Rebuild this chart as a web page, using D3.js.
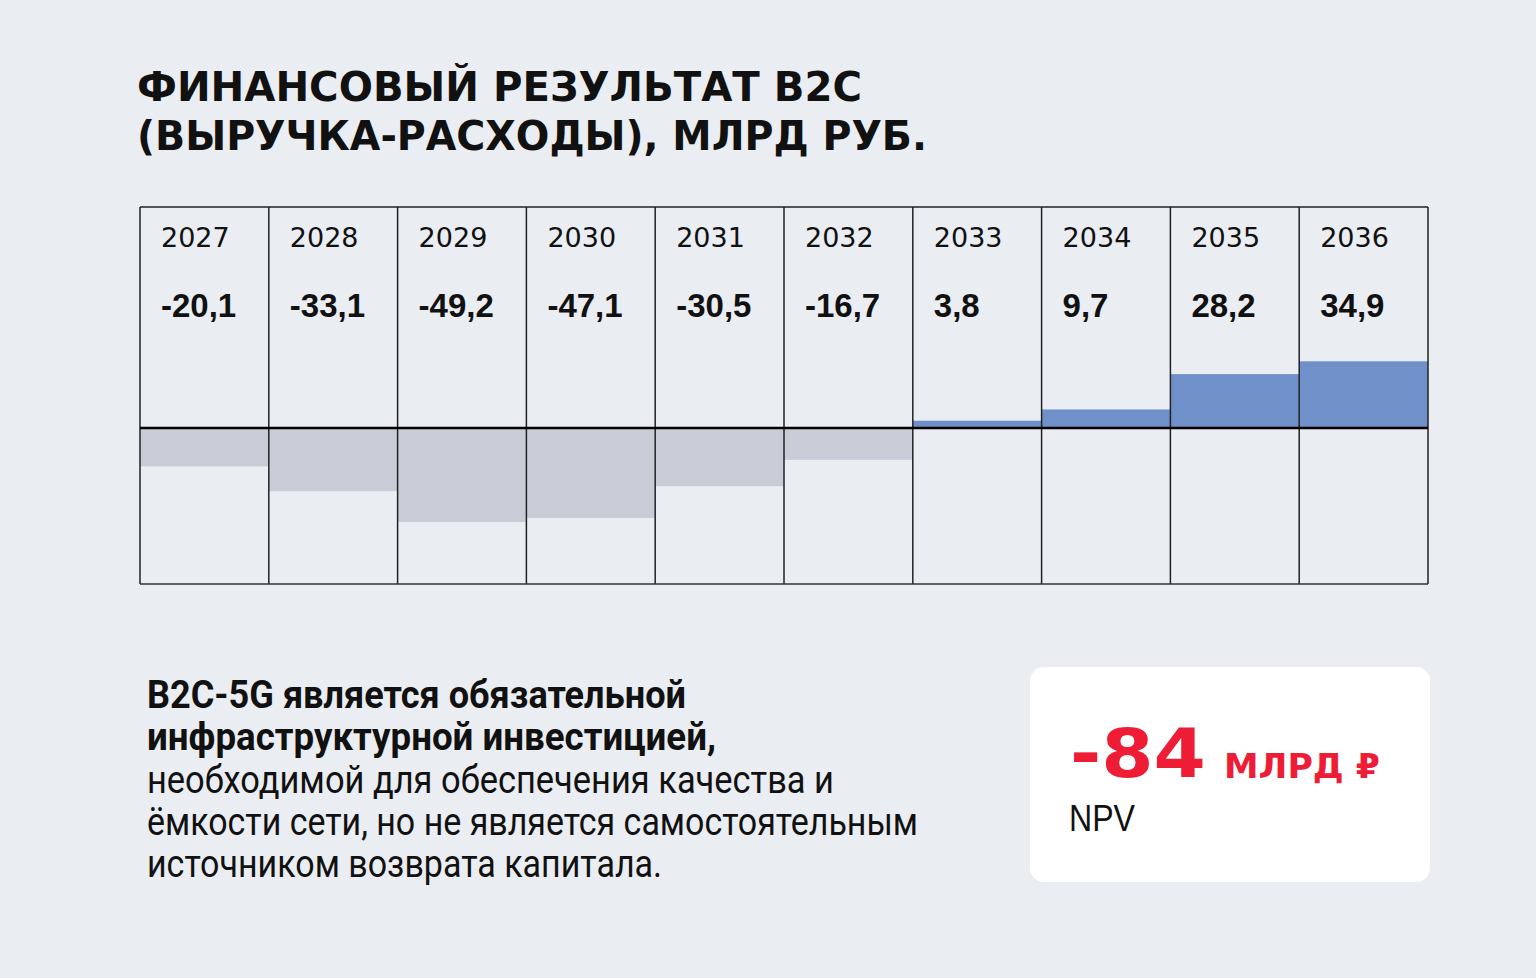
<!DOCTYPE html>
<html>
<head>
<meta charset="utf-8">
<script src="https://cdn.jsdelivr.net/npm/d3@7"></script>
<style>
  html, body { margin: 0; padding: 0; background: #eaedf2; }
  svg { display: block; }
</style>
</head>
<body>
<svg width="1536" height="978"></svg>
<script>
const years = ['2027', '2028', '2029', '2030', '2031', '2032', '2033', '2034', '2035', '2036'];
const values = [-20.1, -33.1, -49.2, -47.1, -30.5, -16.7, 3.8, 9.7, 28.2, 34.9];
const titleLines = ['ФИНАНСОВЫЙ РЕЗУЛЬТАТ B2C', '(ВЫРУЧКА-РАСХОДЫ), МЛРД РУБ.'];
const noteLines = [
  { text: 'B2C-5G является обязательной', bold: true, w: 539 },
  { text: 'инфраструктурной инвестицией,', bold: true, w: 569 },
  { text: 'необходимой для обеспечения качества и', bold: false, w: 687 },
  { text: 'ёмкости сети, но не является самостоятельным', bold: false, w: 771 },
  { text: 'источником возврата капитала.', bold: false, w: 515 }
];
const npvValue = '-84';
const npvUnit = 'МЛРД ₽';
const npvLabel = 'NPV';

const svg = d3.select('svg');
const width = +svg.attr('width');
const height = +svg.attr('height');

svg.append('rect')
    .attr('width', width)
    .attr('height', height)
    .attr('fill', '#eaedf2');

// title
svg.append('g')
  .selectAll('text')
  .data(titleLines)
  .join('text')
    .attr('x', 137)
    .attr('y', (d, i) => 101 + i * 49)
    .attr('font-family', 'DejaVu Sans')
    .attr('font-weight', 'bold')
    .attr('font-size', 40)
    .attr('fill', '#111')
    .attr('textLength', (d, i) => i === 0 ? 725 : 790)
    .attr('lengthAdjust', 'spacingAndGlyphs')
    .text(d => d);

// chart
const gridLeft = 140, gridRight = 1428, gridTop = 207, gridBottom = 584;

const x = d3.scaleBand()
    .domain(years)
    .range([gridLeft, gridRight])
    .padding(0);

const y = d3.scaleLinear()
    .domain([-81.7, 115.7])
    .range([gridBottom, gridTop]);

const chart = svg.append('g');

chart.selectAll('rect.bar')
  .data(values)
  .join('rect')
    .attr('class', 'bar')
    .attr('x', (d, i) => x(years[i]))
    .attr('width', x.bandwidth())
    .attr('y', d => d >= 0 ? y(d) : y(0))
    .attr('height', d => Math.abs(y(d) - y(0)))
    .attr('fill', d => d >= 0 ? '#6f90c8' : '#c9cbd7');

// grid
chart.selectAll('line.col')
  .data(years.concat(['end']))
  .join('line')
    .attr('class', 'col')
    .attr('x1', (d, i) => i < years.length ? x(d) : gridRight)
    .attr('x2', (d, i) => i < years.length ? x(d) : gridRight)
    .attr('y1', gridTop)
    .attr('y2', gridBottom)
    .attr('stroke', '#222')
    .attr('stroke-width', 1.5);

chart.append('line')
    .attr('x1', gridLeft).attr('x2', gridRight)
    .attr('y1', gridTop).attr('y2', gridTop)
    .attr('stroke', '#222')
    .attr('stroke-width', 1.5);

chart.append('line')
    .attr('x1', gridLeft).attr('x2', gridRight)
    .attr('y1', gridBottom).attr('y2', gridBottom)
    .attr('stroke', '#333')
    .attr('stroke-width', 1.5);

chart.append('line')
    .attr('x1', gridLeft).attr('x2', gridRight)
    .attr('y1', y(0)).attr('y2', y(0))
    .attr('stroke', '#000')
    .attr('stroke-width', 2.5);

// labels
chart.selectAll('text.year')
  .data(years)
  .join('text')
    .attr('class', 'year')
    .attr('x', d => x(d) + 21)
    .attr('y', 247)
    .attr('font-family', 'DejaVu Sans')
    .attr('font-size', 27)
    .attr('fill', '#111')
    .text(d => d);

chart.selectAll('text.val')
  .data(values)
  .join('text')
    .attr('class', 'val')
    .attr('x', (d, i) => x(years[i]) + 21)
    .attr('y', 317)
    .attr('font-family', 'Liberation Sans')
    .attr('font-weight', 'bold')
    .attr('font-size', 33)
    .attr('fill', '#111')
    .text(d => d3.format('.1f')(d).replace('.', ',').replace('−', '-'));

// note text
svg.append('g')
  .selectAll('text')
  .data(noteLines)
  .join('text')
    .attr('x', 147)
    .attr('y', (d, i) => 708 + i * 42.3)
    .attr('font-family', 'Roboto')
    .attr('font-weight', d => d.bold ? 'bold' : 'normal')
    .attr('font-size', 38)
    .attr('fill', '#111')
    .attr('textLength', d => d.w)
    .attr('lengthAdjust', 'spacingAndGlyphs')
    .text(d => d.text);

// NPV card
const card = svg.append('g');
card.append('rect')
    .attr('x', 1030)
    .attr('y', 667)
    .attr('width', 400)
    .attr('height', 215)
    .attr('rx', 14)
    .attr('fill', '#ffffff');

card.append('text')
    .attr('x', 1070)
    .attr('y', 777)
    .attr('font-family', 'DejaVu Sans')
    .attr('font-weight', 'bold')
    .attr('font-size', 67)
    .attr('fill', '#ee1d35')
    .attr('textLength', 136)
    .attr('lengthAdjust', 'spacingAndGlyphs')
    .text(npvValue);

card.append('text')
    .attr('x', 1224)
    .attr('y', 778)
    .attr('font-family', 'DejaVu Sans, Noto Sans')
    .attr('font-weight', 'bold')
    .attr('font-size', 34)
    .attr('fill', '#ee1d35')
    .attr('textLength', 156)
    .attr('lengthAdjust', 'spacingAndGlyphs')
    .text(npvUnit);

card.append('text')
    .attr('x', 1069)
    .attr('y', 831)
    .attr('font-family', 'Liberation Sans')
    .attr('font-size', 36)
    .attr('fill', '#111')
    .attr('textLength', 66)
    .attr('lengthAdjust', 'spacingAndGlyphs')
    .text(npvLabel);
</script>
</body>
</html>
